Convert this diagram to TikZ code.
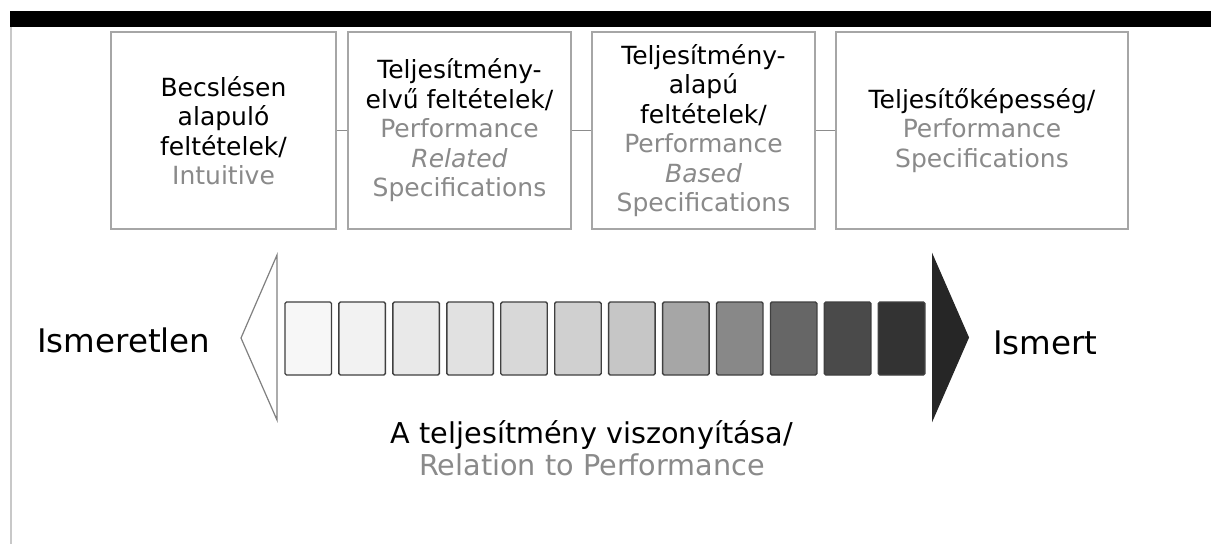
\documentclass[tikz,border=0pt]{standalone}
\usepackage{fontspec}
\setmainfont{DejaVu Sans}
\definecolor{boxline}{HTML}{A6A6A6}
\definecolor{txtgray}{HTML}{8A8A8A}
\definecolor{conn}{HTML}{8C8C8C}
\definecolor{sqline}{HTML}{404040}
\definecolor{darkarrow}{HTML}{262626}
\definecolor{leftline}{HTML}{C8C8C8}
\tikzset{
  specbox/.style={draw=boxline, line width=2.6pt, fill=white, minimum height=197pt, inner sep=2pt, align=center, font=\fontsize{25}{29.5}\selectfont},
  linkline/.style={draw=conn, line width=1.3pt},
  shade/.style={draw=sqline, line width=1.4pt, rounded corners=1.5pt, minimum width=46.5pt, minimum height=73pt, inner sep=0pt},
  bigtext/.style={inner sep=0pt, anchor=base west, font=\fontsize{32.5}{36}\selectfont},
}
\begin{document}
\begin{tikzpicture}[x=1pt,y=-1pt]
\useasboundingbox (0,0) rectangle (1211,544);
\fill[white] (0,0) rectangle (1211,544);
% top bar and left border
\fill[black] (10,11) rectangle (1211,27);
\draw[leftline, line width=2pt] (11,27) -- (11,544);
% boxes
\node[specbox, minimum width=225pt] (b1) at (223.5,130.5) {Becslésen\\alapuló\\feltételek/\\\textcolor{txtgray}{Intuitive}};
\node[specbox, minimum width=223pt] (b2) at (459.5,130.5) {Teljesítmény-\\elvű feltételek/\\\textcolor{txtgray}{Performance}\\\textcolor{txtgray}{\itshape Related}\\\textcolor{txtgray}{Specifications}};
\node[specbox, minimum width=223pt] (b3) at (703.5,130.5) {Teljesítmény-\\alapú\\feltételek/\\\textcolor{txtgray}{Performance}\\\textcolor{txtgray}{\itshape Based}\\\textcolor{txtgray}{Specifications}};
\node[specbox, minimum width=292pt] (b4) at (982,130.5) {Teljesítőképesség/\\\textcolor{txtgray}{Performance}\\\textcolor{txtgray}{Specifications}};
\draw[linkline] (b1.east) -- (b2.west);
\draw[linkline] (b2.east) -- (b3.west);
\draw[linkline] (b3.east) -- (b4.west);
% arrows
\draw[draw=gray, line width=1.2pt, fill=white, line join=miter] (277,255) -- (241,338) -- (277,420) -- cycle;
\draw[draw=darkarrow, line width=1pt, fill=darkarrow] (932.5,255) -- (968.5,337.5) -- (932.5,420) -- cycle;
% shade squares
\foreach \i/\c in {0/F7F7F7,1/F2F2F2,2/E9E9E9,3/E1E1E1,4/D8D8D8,5/D0D0D0,6/C6C6C6,7/A6A6A6,8/888888,9/666666,10/4A4A4A,11/333333}{
  \definecolor{sqfill}{HTML}{\c}
  \node[shade, fill=sqfill] (s\i) at ({285+53.94*\i+23.25},338.5) {};
}
% labels
\node[bigtext] (unk) at (37,352) {Ismeretlen};
\node[bigtext] (kn) at (993,354) {Ismert};
\node[inner sep=0pt, anchor=base, align=center, font=\fontsize{28.7}{32}\selectfont] (rel) at (592,475) {A teljesítmény viszonyítása/\\\textcolor{txtgray}{Relation to Performance}};
\end{tikzpicture}
\end{document}
